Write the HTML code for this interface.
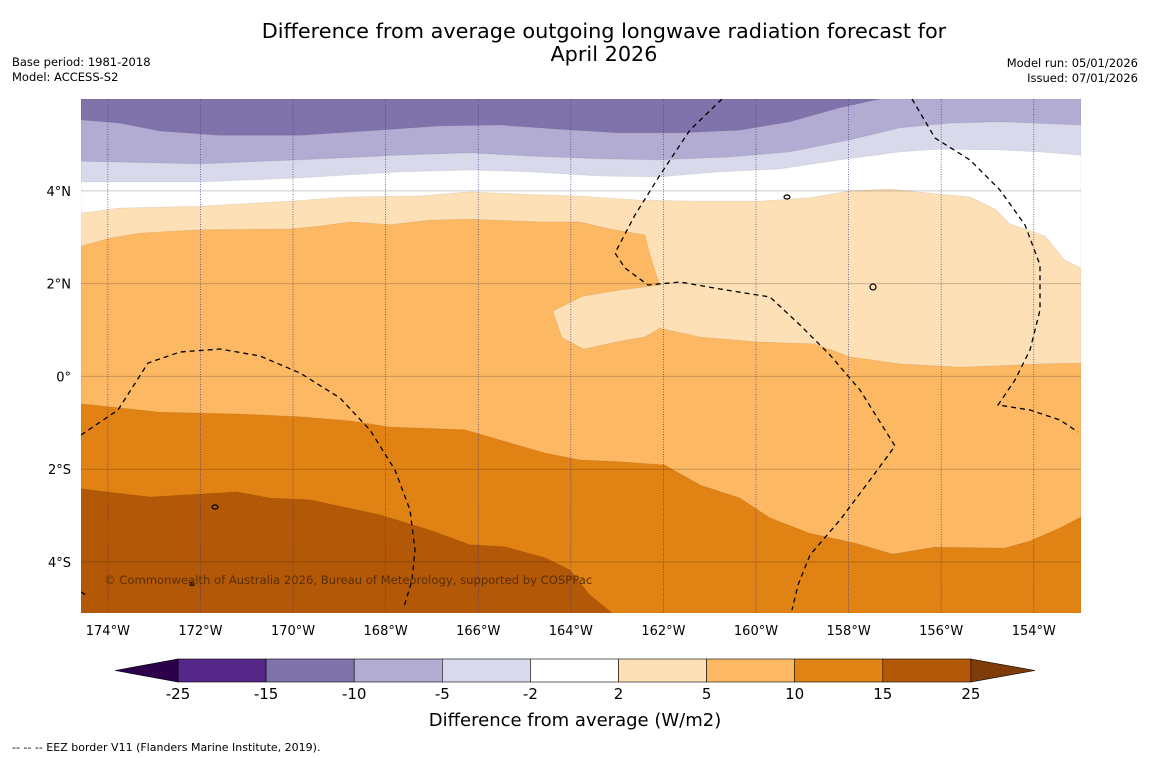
<!DOCTYPE html>
<html><head><meta charset="utf-8"><style>
body{margin:0;background:#fff;width:1150px;height:758px;overflow:hidden;font-family:"DejaVu Sans","Liberation Sans",sans-serif}
svg{display:block;font-family:"DejaVu Sans","Liberation Sans",sans-serif}
</style></head><body>
<svg id="c" width="1150" height="758" viewBox="0 0 1150 758">
<text x="604" y="38" font-size="20.8" text-anchor="middle">Difference from average outgoing longwave radiation forecast for</text>
<text x="604" y="61" font-size="20.8" text-anchor="middle">April 2026</text>
<text x="12" y="66" font-size="11.5">Base period: 1981-2018</text>
<text x="12" y="81" font-size="11.5">Model: ACCESS-S2</text>
<text x="1138" y="67" font-size="11.5" text-anchor="end">Model run: 05/01/2026</text>
<text x="1138" y="82" font-size="11.5" text-anchor="end">Issued: 07/01/2026</text>
<defs><clipPath id="mc"><rect x="81" y="99" width="1000" height="514"/></clipPath></defs>
<g id="map" clip-path="url(#mc)"></g>
<g id="axes"></g>
<g id="cbar"></g>
<text x="575" y="726" font-size="18" text-anchor="middle">Difference from average (W/m2)</text>
<text x="12" y="751" font-size="11">--  --  -- EEZ border V11 (Flanders Marine Institute, 2019).</text>
</svg>
<script>
const lonMin=-174.58,lonMax=-152.98,latMin=-5.1,latMax=5.98;
const lonTicks=[-174,-172,-170,-168,-166,-164,-162,-160,-158,-156,-154];
const lonLabels=["174°W","172°W","170°W","168°W","166°W","164°W","162°W","160°W","158°W","156°W","154°W"];
const latTicks=[4,2,0,-2,-4];
const latLabels=["4°N","2°N","0°","2°S","4°S"];
const levels=[-25,-15,-10,-5,-2,2,5,10,15,25];
const levelColors=["#542788","#8073ac","#b2abd2","#d8daeb","#ffffff","#fee0b6","#fdb863","#e08214","#b35806"];
// contour boundaries [lon,lat]; region above each line gets listed colour
const b15=[[-174.58,-2.42],[-173.09,-2.6],[-171.21,-2.49],[-170.5,-2.62],[-169.64,-2.66],[-168.13,-2.98],[-167.05,-3.31],[-166.18,-3.63],[-165.43,-3.67],[-164.56,-3.91],[-164.02,-4.17],[-163.59,-4.71],[-163.11,-5.1]];
const b10=[[-174.58,-0.59],[-172.88,-0.77],[-171.15,-0.81],[-169.85,-0.87],[-168.77,-0.96],[-167.91,-1.09],[-166.29,-1.15],[-165.53,-1.37],[-164.56,-1.65],[-163.81,-1.8],[-162.94,-1.84],[-161.97,-1.91],[-161.21,-2.34],[-160.35,-2.62],[-159.7,-3.05],[-158.84,-3.38],[-157.87,-3.59],[-157.05,-3.83],[-156.14,-3.68],[-154.63,-3.7],[-154.09,-3.55],[-153.44,-3.27],[-152.98,-3.03]];
const b5=[[-174.58,2.81],[-173.96,2.98],[-173.31,3.09],[-172.01,3.16],[-170.07,3.18],[-169.42,3.24],[-168.77,3.33],[-167.91,3.27],[-167.05,3.37],[-166.18,3.39],[-164.67,3.33],[-163.81,3.33],[-163.16,3.18],[-162.4,3.05],[-162.29,2.62],[-162.08,1.97],[-162.94,1.86],[-163.74,1.73],[-164.39,1.41],[-164.19,0.83],[-163.72,0.59],[-162.94,0.76],[-162.4,0.85],[-162.08,1.04],[-161.21,0.85],[-159.92,0.74],[-158.73,0.7],[-157.97,0.42],[-156.89,0.27],[-155.6,0.2],[-154.73,0.23],[-153.87,0.27],[-152.98,0.29]];
const b2=[[-174.58,3.52],[-173.74,3.63],[-172.01,3.67],[-170.07,3.78],[-168.77,3.87],[-167.26,3.89],[-166.18,3.98],[-165.1,3.93],[-163.81,3.89],[-162.51,3.8],[-161.21,3.78],[-159.92,3.78],[-158.84,3.85],[-157.97,4.0],[-157.11,4.04],[-156.25,3.95],[-155.38,3.87],[-154.84,3.61],[-154.52,3.29],[-153.76,3.03],[-153.33,2.51],[-152.98,2.34]];
const bm2=[[-174.58,4.19],[-172.01,4.19],[-169.85,4.28],[-167.69,4.41],[-166.18,4.45],[-164.89,4.41],[-163.37,4.32],[-162.08,4.3],[-160.78,4.41],[-159.49,4.47],[-158.19,4.67],[-156.89,4.84],[-156.03,4.9],[-154.73,4.88],[-153.87,4.84],[-152.98,4.77]];
const bm5=[[-174.58,4.64],[-172.01,4.58],[-169.85,4.67],[-167.69,4.77],[-166.18,4.82],[-164.89,4.75],[-163.37,4.69],[-162.08,4.67],[-160.57,4.73],[-159.27,4.84],[-157.97,5.1],[-156.89,5.36],[-155.81,5.46],[-154.73,5.49],[-152.98,5.42]];
const bm10=[[-174.58,5.53],[-173.74,5.46],[-172.88,5.29],[-171.58,5.2],[-169.85,5.2],[-168.13,5.31],[-166.83,5.4],[-165.53,5.42],[-164.24,5.33],[-162.94,5.25],[-161.65,5.25],[-160.35,5.31],[-159.27,5.49],[-158.19,5.79],[-157.33,5.98]];

const X=lon=>81+(lon-lonMin)/(lonMax-lonMin)*1000;
const Y=lat=>99+(latMax-lat)/(latMax-latMin)*514;
const NS="http://www.w3.org/2000/svg";
function mk(tag,attrs,parent){const e=document.createElementNS(NS,tag);for(const k in attrs)e.setAttribute(k,attrs[k]);parent.appendChild(e);return e;}
const map=document.getElementById('map');
const bg=mk('rect',{x:81,y:99,width:1000,height:514,fill:levelColors[8]},map);


const corners={BR:[lonMax,latMin],TR:[lonMax,latMax],TL:[lonMin,latMax]};
const bands=[[b15,["BR","TR","TL"],7,'band-10-15'],[b10,["TR","TL"],6,'band-5-10'],[b5,["TR","TL"],5,'band-2-5'],[b2,["TR","TL"],4,'band-neg2-2'],[bm2,["TR","TL"],3,'band-neg5-neg2'],[bm5,["TR","TL"],2,'band-neg10-neg5'],[bm10,["TL"],1,'band-neg15-neg10']];
bands.forEach(([line,cl,ci,name])=>{
  const pts=line.concat(cl.map(c=>corners[c]));
  const p=mk('polygon',{points:pts.map(q=>X(q[0]).toFixed(1)+','+Y(q[1]).toFixed(1)).join(' '),fill:levelColors[ci],stroke:'#000',"stroke-opacity":0.08,"stroke-width":0.8},map);
  
  
});
lonTicks.forEach(l=>{const g=mk('line',{x1:X(l),x2:X(l),y1:99,y2:613,stroke:'#3a3a8a',"stroke-width":0.7,"stroke-dasharray":"1,1.5"},map);

});
latTicks.forEach(l=>{const g=mk('line',{x1:81,x2:1081,y1:Y(l),y2:Y(l),stroke:'#000',"stroke-opacity":0.2,"stroke-width":1},map);

});
const eez=["M81,435 L118,410 L148,363 L180,352 L220,349 L260,356 L300,373 L340,398 L370,430 L395,470 L410,510 L415,550 L412,580 L404,607",
"M722,99 L690,130 L660,175 L635,215 L615,253 L625,268 L648,285 L680,282 L720,289 L770,297 L800,325 L830,355 L860,390 L895,446 L870,480 L840,520 L810,555 L798,585 L792,610",
"M912,99 L935,138 L970,160 L1000,190 L1025,225 L1040,265 L1040,310 L1030,350 L1015,380 L998,405 L1030,410 L1060,420 L1078,432",
"M81,592 L86,595"];
eez.forEach(d=>{const e=mk('path',{d:d,fill:'none',stroke:'#000',"stroke-width":1.3,"stroke-dasharray":"5,4"},map);

});
[[787,197,3,2],[873,287,3,3],[215,507,3,2],[192,584,2,1.5]].forEach(a=>{const e=mk('ellipse',{cx:a[0],cy:a[1],rx:a[2],ry:a[3],fill:'none',stroke:'#000',"stroke-width":1.2},map);

});
const cp=mk('text',{x:104,y:584,"font-size":11.6,fill:'#5a2e05'},map);cp.textContent='© Commonwealth of Australia 2026, Bureau of Meteorology, supported by COSPPac';


const ax=document.getElementById('axes');
lonTicks.forEach((l,i)=>{const t=mk('text',{x:X(l),y:635,"font-size":13,"text-anchor":"middle"},ax);t.textContent=lonLabels[i];

});
latTicks.forEach((l,i)=>{const t=mk('text',{x:71,y:Y(l)+5,"font-size":13,"text-anchor":"end"},ax);t.textContent=latLabels[i];

});
const cb=document.getElementById('cbar');
const cbX=i=>178+i*88.1;
for(let i=0;i<levelColors.length;i++){const r=mk('rect',{x:cbX(i),y:659,width:88.1,height:23,fill:levelColors[i],stroke:'#000',"stroke-width":0.6},cb);

}
const tl=mk('polygon',{points:`115,670.5 178,659 178,682`,fill:'#2d004b',stroke:'#000',"stroke-width":0.6},cb);


const tr=mk('polygon',{points:`${cbX(9)},659 1035,670.5 ${cbX(9)},682`,fill:'#7f3b08',stroke:'#000',"stroke-width":0.6},cb);


levels.forEach((v,i)=>{const t=mk('text',{x:cbX(i),y:699,"font-size":15,"text-anchor":"middle"},cb);t.textContent=v;

});
</script>
</body></html>
